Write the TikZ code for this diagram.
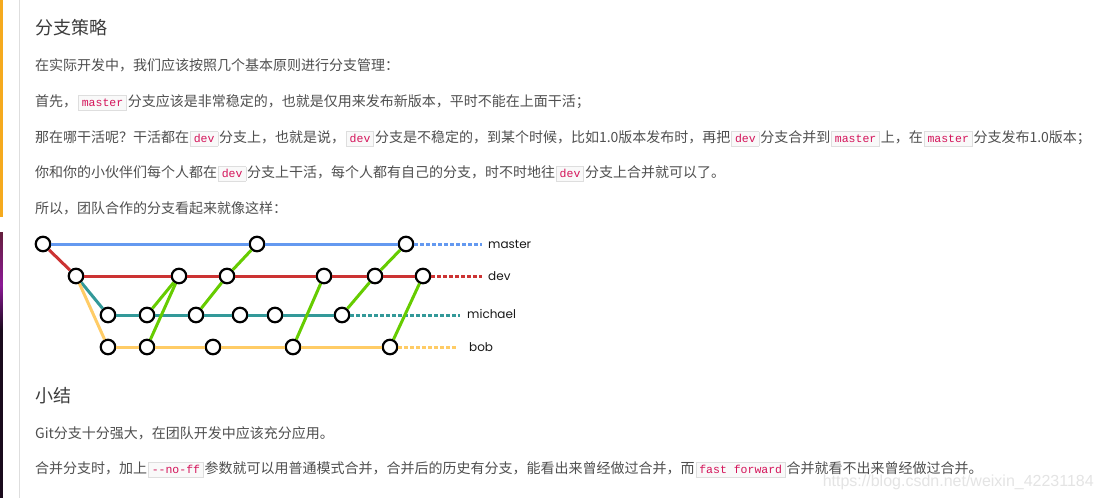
\documentclass[tikz,border=0pt]{standalone}
\usepackage{fontspec}
\newfontfamily\cjk{Noto Sans CJK SC}
\newfontfamily\lbl{Poppins}
\newfontfamily\mono{Liberation Mono}
\newfontfamily\wmfont{Liberation Sans}
\definecolor{txt}{RGB}{79,79,79}
\definecolor{ttl}{RGB}{60,60,60}
\definecolor{codefg}{RGB}{212,20,90}
\definecolor{codebg}{RGB}{249,249,249}
\definecolor{codebd}{RGB}{222,222,222}
\definecolor{cblue}{RGB}{100,153,240}
\definecolor{cred}{RGB}{204,51,51}
\definecolor{cteal}{RGB}{51,153,153}
\definecolor{cyel}{RGB}{255,204,102}
\definecolor{cgreen}{RGB}{102,204,0}
\definecolor{barorange}{RGB}{245,170,30}
\definecolor{barmaroon}{RGB}{100,30,60}
\definecolor{barpurple}{RGB}{140,25,150}
\definecolor{bardark}{RGB}{25,10,28}
\definecolor{rulegray}{RGB}{222,222,222}
\definecolor{wmc}{RGB}{228,228,228}
\newcommand\cd[1]{\hspace{1pt}{\setlength\fboxsep{1pt}\setlength\fboxrule{0.6pt}\fcolorbox{codebd}{codebg}{\hspace{2pt}\rule[-2pt]{0pt}{11.5pt}\mono\fontsize{11.5}{13}\selectfont\color{codefg}#1\hspace{2pt}}}\hspace{1pt}}
\tikzset{
  body/.style={anchor=base west, inner sep=0pt, text=txt, font=\cjk\fontsize{14}{17}\selectfont},
  heading/.style={anchor=base west, inner sep=0pt, text=ttl, font=\cjk\fontsize{18}{22}\selectfont},
  commit/.style={circle, draw=black, line width=2.2pt, fill=white, minimum size=14.5pt, inner sep=0pt},
  branch/.style={line width=3pt},
  tail/.style={line width=3pt, dash pattern=on 4pt off 2pt},
  merge/.style={line width=3pt, draw=cgreen},
  blabel/.style={anchor=base west, inner sep=0pt, font=\lbl\fontsize{12}{14}\selectfont, text=black!90},
}
\begin{document}
\begin{tikzpicture}[x=1pt,y=-1pt]
\useasboundingbox (0,0) rectangle (1103,498);
\fill[white] (0,0) rectangle (1103,498);
% page decorations
\fill[barorange] (0,0) rectangle (2.6,217);
\shade[top color=barmaroon, bottom color=barpurple] (0,232) rectangle (2.8,285);
\shade[top color=barpurple, bottom color=bardark] (0,285) rectangle (2.8,330);
\fill[bardark] (0,330) rectangle (2.8,498);
\draw[rulegray, line width=1pt] (19,0) -- (19,498);

% texts
\node[heading] (t1) at (35,34) {分支策略};
\node[body] (l1) at (35,70.5) {在实际开发中，我们应该按照几个基本原则进行分支管理：};
\node[body] (l2) at (35,106.5) {首先，\cd{master}分支应该是非常稳定的，也就是仅用来发布新版本，平时不能在上面干活；};
\node[body] (l3) at (35,142.5) {那在哪干活呢？干活都在\cd{dev}分支上，也就是说，\cd{dev}分支是不稳定的，到某个时候，比如1.0版本发布时，再把\cd{dev}分支合并到\cd{master}上，在\cd{master}分支发布1.0版本；};
\node[body] (l4) at (35,177.5) {你和你的小伙伴们每个人都在\cd{dev}分支上干活，每个人都有自己的分支，时不时地往\cd{dev}分支上合并就可以了。};
\node[body] (l5) at (35,213.5) {所以，团队合作的分支看起来就像这样：};
\node[heading] (t2) at (35,402) {小结};
\node[body] (l6) at (35,438.5) {Git分支十分强大，在团队开发中应该充分应用。};
\node[body] (l7) at (35,473.5) {合并分支时，加上\cd{-\kern0pt-no-ff}参数就可以用普通模式合并，合并后的历史有分支，能看出来曾经做过合并，而\cd{fast forward}合并就看不出来曾经做过合并。};
\node[anchor=base east, inner sep=0pt, text=wmc, font=\wmfont\fontsize{16}{18}\selectfont] (wm) at (1094,486) {https://blog.csdn.net/weixin\_42231184};

% commits
\node[commit] (m1) at (43,244) {};
\node[commit] (m2) at (257,244) {};
\node[commit] (m3) at (406,244) {};
\node[commit] (d1) at (76,276) {};
\node[commit] (d2) at (179,276) {};
\node[commit] (d3) at (227,276) {};
\node[commit] (d4) at (324,276) {};
\node[commit] (d5) at (375,276) {};
\node[commit] (d6) at (423,276) {};
\node[commit] (c1) at (108,315) {};
\node[commit] (c2) at (147,315) {};
\node[commit] (c3) at (196,315) {};
\node[commit] (c4) at (240,315) {};
\node[commit] (c5) at (275,315) {};
\node[commit] (c6) at (342,315) {};
\node[commit] (b1) at (108,347) {};
\node[commit] (b2) at (147,347) {};
\node[commit] (b3) at (213,347) {};
\node[commit] (b4) at (293,347) {};
\node[commit] (b5) at (390,347) {};
\coordinate (mE) at (482,244);
\coordinate (dE) at (482,276);
\coordinate (cE) at (460,315);
\coordinate (bE) at (458,347);

% branch lines
\draw[branch, cblue] (m1) -- (m2) (m2) -- (m3);
\draw[tail, cblue] (m3) -- (mE);
\draw[branch, cred] (m1) -- (d1);
\draw[branch, cred] (d1) -- (d2) (d2) -- (d3) (d3) -- (d4) (d4) -- (d5) (d5) -- (d6);
\draw[tail, cred] (d6) -- (dE);
\draw[branch, cteal] (d1) -- (c1);
\draw[branch, cteal] (c1) -- (c2) (c2) -- (c3) (c3) -- (c4) (c4) -- (c5) (c5) -- (c6);
\draw[tail, cteal] (c6) -- (cE);
\draw[branch, cyel] (d1) -- (b1);
\draw[branch, cyel] (b1) -- (b2) (b2) -- (b3) (b3) -- (b4) (b4) -- (b5);
\draw[tail, cyel] (b5) -- (bE);
% merges
\draw[merge] (c2) -- (d2);
\draw[merge] (b2) -- (d2);
\draw[merge] (c3) -- (d3);
\draw[merge] (d3) -- (m2);
\draw[merge] (b4) -- (d4);
\draw[merge] (c6) -- (d5);
\draw[merge] (d5) -- (m3);
\draw[merge] (b5) -- (d6);

% branch labels
\node[blabel] (lm) at (488,248) {master};
\node[blabel] (ld) at (488,280) {dev};
\node[blabel] (lc) at (467,318) {michael};
\node[blabel] (lb) at (469,351.5) {bob};
\end{tikzpicture}
\end{document}
